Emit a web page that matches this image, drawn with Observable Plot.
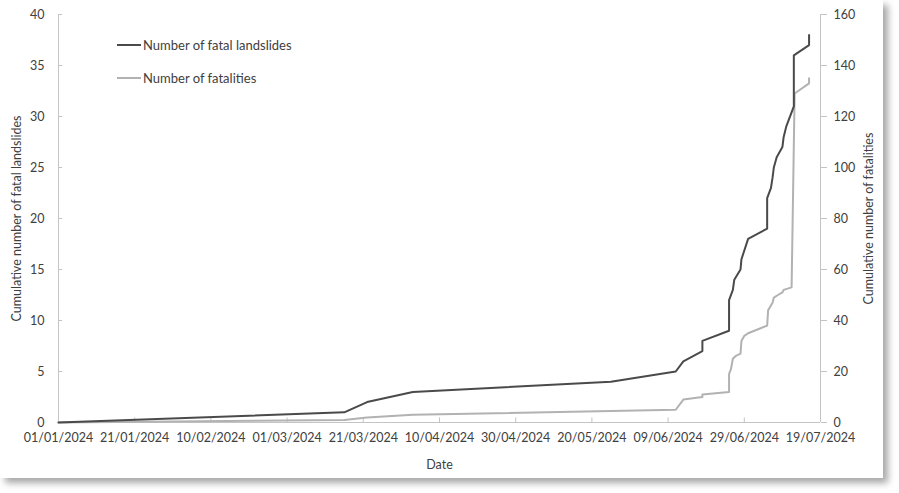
<!DOCTYPE html>
<html>
<head>
<meta charset="utf-8">
<script src="https://cdn.jsdelivr.net/npm/d3@7"></script>
<script src="https://cdn.jsdelivr.net/npm/@observablehq/plot@0.6"></script>
<style>
  html, body { margin: 0; padding: 0; background: #fff; }
  #card { position: absolute; left: 0; top: 0; width: 883px; height: 478px; background: #fff;
          box-shadow: 5px 5px 7px rgba(0,0,0,0.35); }
  #legend { position: absolute; left: 117px; top: 36px; font-family: Lato, sans-serif; font-size: 13px; color: #404040; }
  #legend .row { display: flex; align-items: center; height: 18px; margin-bottom: 15px; }
  #legend svg { margin-right: 2px; }
</style>
</head>
<body>
<div id="card"></div>
<script>
// ---- data ----
const xTickLabels = ["2024-01-01","2024-01-21","2024-02-10","2024-03-01","2024-03-21","2024-04-10",
                     "2024-04-30","2024-05-20","2024-06-09","2024-06-29","2024-07-19"];
const leftTicks = [0, 5, 10, 15, 20, 25, 30, 35, 40];
const rightTicks = [0, 20, 40, 60, 80, 100, 120, 140, 160];

const landslideDates = ["2024-01-01","2024-03-16","2024-03-22","2024-04-03","2024-05-25","2024-06-11",
  "2024-06-13","2024-06-18","2024-06-18","2024-06-25","2024-06-25","2024-06-26","2024-06-26T09:00Z",
  "2024-06-28","2024-06-28T06:00Z","2024-06-30","2024-07-05","2024-07-05","2024-07-06","2024-07-06T10:00Z",
  "2024-07-06T18:00Z","2024-07-07T12:00Z","2024-07-09","2024-07-09T08:00Z","2024-07-10","2024-07-12",
  "2024-07-12","2024-07-16","2024-07-16"];
const landslideValues = [0,1,2,3,4,5,6,7,8,9,12,13,14,15,16,18,19,22,23,24,25,26,27,28,29,31,36,37,38];

const fatalityDates = ["2024-01-01","2024-03-16","2024-03-22","2024-04-03","2024-06-11","2024-06-13",
  "2024-06-18","2024-06-18","2024-06-25","2024-06-25","2024-06-25T12:00Z","2024-06-26","2024-06-26T16:00Z",
  "2024-06-28","2024-06-28T06:00Z","2024-06-29","2024-06-30","2024-07-05","2024-07-05T06:00Z",
  "2024-07-06T10:00Z","2024-07-06T18:00Z","2024-07-07T20:00Z","2024-07-09","2024-07-09T08:00Z",
  "2024-07-11T10:00Z","2024-07-12T05:00Z","2024-07-16","2024-07-16"];
const fatalityValues = [0,1,2,3,5,9,10,11,12,19,21,25,26,27,32,34,35,38,44,47,49,50,51,52,53,129,133,135];

const ratio = 160 / 40; // right axis / left axis

// ---- build tables ----
const landslides = landslideDates.map((d, i) => ({date: new Date(d), value: landslideValues[i]}));
const fatalities = fatalityDates.map((d, i) => ({date: new Date(d), value: fatalityValues[i]}));
const xTicks = xTickLabels.map(d => new Date(d));
const x0 = xTicks[0], x1 = xTicks[xTicks.length - 1];
const fmt = d3.utcFormat("%d/%m/%Y");

const axisGray = "#c4c4c4";
const chart = Plot.plot({
  width: 883, height: 478,
  marginLeft: 58, marginRight: 63, marginTop: 14, marginBottom: 56,
  style: {fontFamily: "Lato, sans-serif", fontSize: "12.5px", color: "#404040", background: "transparent"},
  x: {type: "utc", domain: [x0, x1]},
  y: {domain: [0, 40]},
  marks: [
    Plot.ruleX([x0, x1], {stroke: axisGray}),
    Plot.ruleY([0], {stroke: axisGray}),
    Plot.ruleX(xTicks, {y1: 0, y2: 0.45, stroke: axisGray}),
    Plot.ruleY(leftTicks, {x1: x0, x2: d3.utcHour.offset(x0, 26), stroke: axisGray}),
    Plot.axisX(xTicks, {tickSize: 0, tickPadding: 11, tickFormat: fmt,
      label: "Date", labelAnchor: "center", labelArrow: "none", labelOffset: 46}),
    Plot.axisY(leftTicks, {anchor: "left", tickSize: 0, tickPadding: 14,
      label: "Cumulative number of fatal landslides", labelAnchor: "center", labelArrow: "none", labelOffset: 46}),
    Plot.axisY(rightTicks.map(v => v / ratio), {anchor: "right", tickSize: 6, tickPadding: 7, stroke: axisGray,
      tickFormat: d => d * ratio,
      label: "Cumulative number of fatalities", labelAnchor: "center", labelArrow: "none", labelOffset: 52}),
    Plot.line(fatalities, {x: "date", y: d => d.value / ratio, stroke: "#b2b2b2", strokeWidth: 2}),
    Plot.line(landslides, {x: "date", y: "value", stroke: "#4a4a4a", strokeWidth: 2})
  ]
});
const card = document.getElementById("card");
card.appendChild(chart);

// legend
const legendItems = [["Number of fatal landslides", "#4a4a4a"], ["Number of fatalities", "#b2b2b2"]];
const legend = document.createElement("div");
legend.id = "legend";
for (const [name, color] of legendItems) {
  const row = document.createElement("div");
  row.className = "row";
  row.innerHTML = `<svg width="24" height="4"><line x1="0" x2="24" y1="2" y2="2" stroke="${color}" stroke-width="2"/></svg><span>${name}</span>`;
  legend.appendChild(row);
}
card.appendChild(legend);
</script>
</body>
</html>
